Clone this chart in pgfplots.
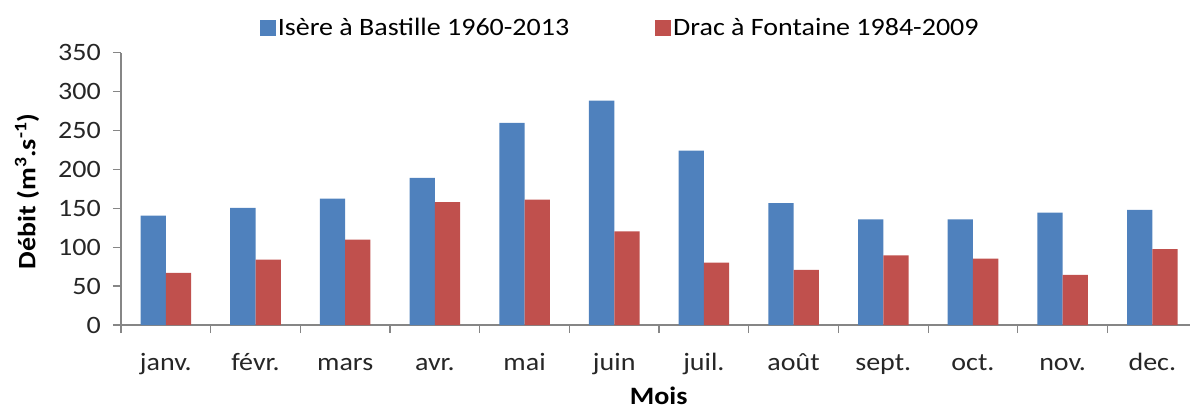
\documentclass[border=0pt]{standalone}
\usepackage{fontspec}
\setmainfont[FakeStretch=1.12]{Carlito}
\usepackage{pgfplots}
\pgfplotsset{compat=1.18}
\definecolor{cblue}{HTML}{4F81BD}
\definecolor{cred}{HTML}{C0504D}
\definecolor{axgray}{HTML}{868686}
\pgfplotsset{sqlegend/.style={legend image code/.code={\fill[##1] (0bp,-8bp) rectangle (16bp,8bp);}}}
\begin{document}
\begin{tikzpicture}
\begin{axis}[
  at={(0,0)}, anchor=south west,
  scale only axis, width=1069bp, height=272.5bp,
  xmin=-0.5, xmax=11.42, ymin=0, ymax=350,
  axis x line=bottom, axis y line=left,
  axis line style={-, draw=axgray, line width=1.2bp},
  tick align=outside,
  major tick length=8bp, minor tick length=8bp,
  tick style={draw=axgray, line width=1.2bp},
  ytick={0,50,...,350},
  xtick={0,...,11},
  xticklabels={janv.,févr.,mars,avr.,mai,juin,juil.,août,sept.,oct.,nov.,dec.},
  major x tick style={draw=none},
  minor xtick={-0.5,0.5,...,10.5},
  /pgf/number format/assume math mode=true,
  ticklabel style={font=\fontsize{25bp}{30bp}\selectfont, text=black!85},
  yticklabel style={inner sep=0pt, xshift=-12bp},
  xticklabel style={inner sep=0pt, anchor=north, text height=19bp, text depth=6bp, yshift=-18bp},
  ylabel={\bfseries Débit (m\textsuperscript{3}.s\textsuperscript{-1})},
  ylabel style={at={(axis description cs:-0.0879,0.49)}, anchor=center, font=\fontsize{25bp}{30bp}\selectfont},
  xlabel={\bfseries Mois},
  xlabel style={at={(axis description cs:0.503,-0.292)}, anchor=base, inner sep=0pt, font=\fontsize{25bp}{30bp}\selectfont},
  legend style={at={(axis description cs:0.467,1.09)}, anchor=center, draw=none, fill=none,
    font=\fontsize{25bp}{30bp}\selectfont, inner sep=0pt,
    /tikz/every even column/.append style={column sep=84bp}},
  legend columns=2,
]
\addplot[ybar, fill=cblue, draw=none, bar width=0.282, bar shift=-0.141, sqlegend]
  coordinates {(0,140.5) (1,150.4) (2,162.4) (3,189) (4,259.6) (5,288.3) (6,224) (7,156.4) (8,135.8) (9,135.8) (10,144.4) (11,147.8)};
\addlegendentry{Isère à Bastille 1960-2013}
\addplot[ybar, fill=cred, draw=none, bar width=0.282, bar shift=0.141, sqlegend]
  coordinates {(0,66.8) (1,84) (2,109.7) (3,157.7) (4,161.1) (5,120.4) (6,80.1) (7,70.7) (8,89.5) (9,85.3) (10,64.3) (11,97.3)};
\addlegendentry{Drac à Fontaine 1984-2009}
\end{axis}
\pgfresetboundingbox
\path[use as bounding box] (-121bp,-84bp) rectangle (1069bp,325bp);
\end{tikzpicture}
\end{document}
